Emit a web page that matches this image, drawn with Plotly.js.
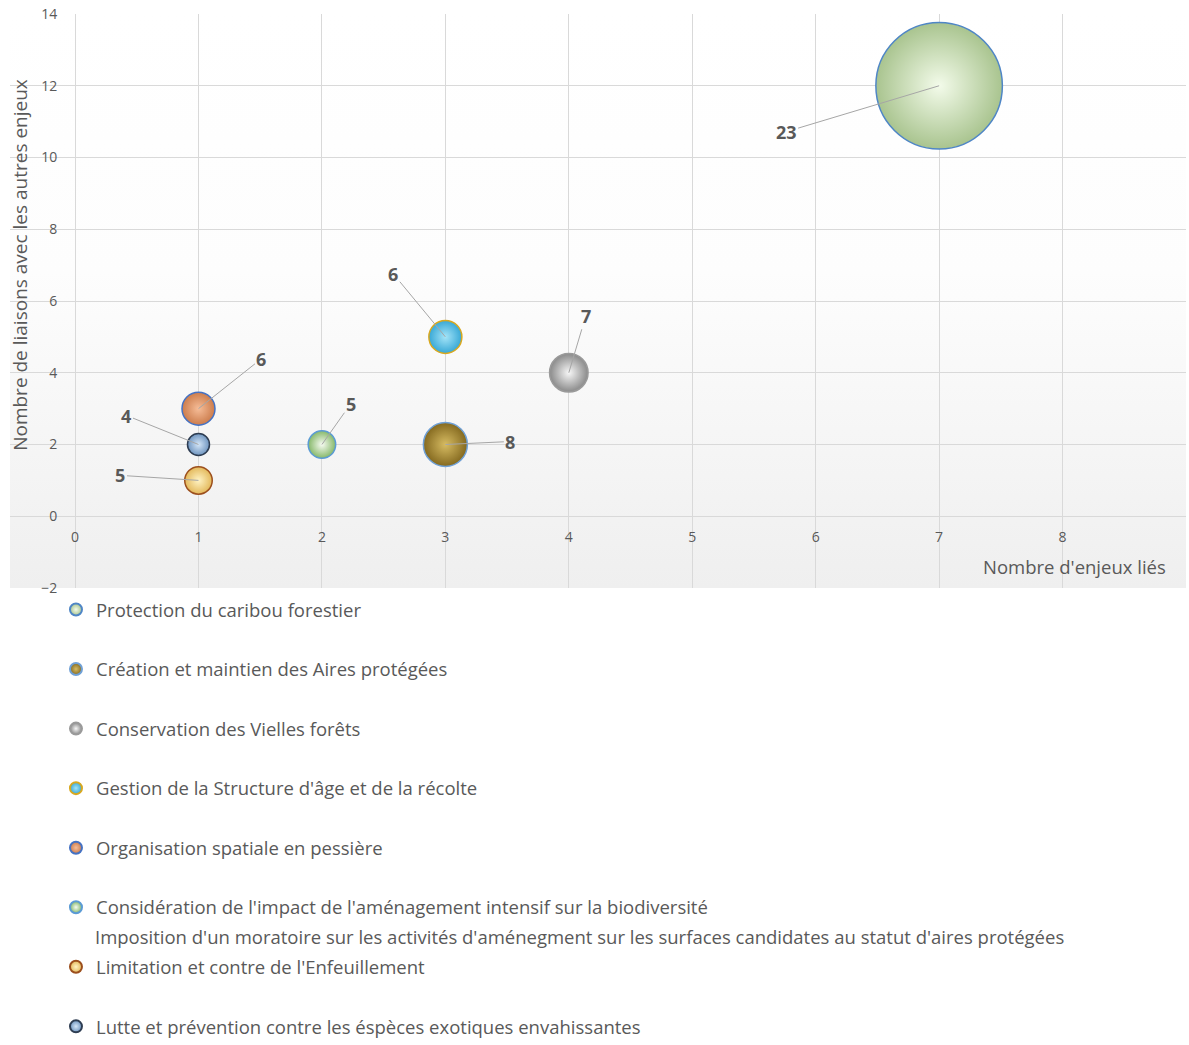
<!DOCTYPE html>
<html>
<head>
<meta charset="utf-8">
<script src="https://cdn.plot.ly/plotly-3.0.1.min.js"></script>
<style>html,body{margin:0;padding:0;background:#fff;}#chart{width:1189px;height:1045px;}</style>
</head>
<body>
<div id="chart"></div>
<script>
// ---- data ----
const seriesNames = [
  "Protection du caribou forestier",
  "Création et maintien des Aires protégées",
  "Conservation des Vielles forêts",
  "Gestion de la Structure d'âge et de la récolte",
  "Organisation spatiale en pessière",
  "Considération de l'impact de l'aménagement intensif sur la biodiversité",
  "Limitation et contre de l'Enfeuillement",
  "Lutte et prévention contre les éspèces exotiques envahissantes"
];
const secondLine = "Imposition d'un moratoire sur les activités d'aménegment sur les surfaces candidates au statut d'aires protégées";
const enjeuxLies = [7, 3, 4, 3, 1, 2, 1, 1];          // x
const liaisons   = [12, 2, 4, 5, 3, 2, 1, 2];         // y
const bubbleSize = [23, 8, 7, 6, 6, 5, 5, 4];         // size / label
const xTicks = [0, 1, 2, 3, 4, 5, 6, 7, 8, 9];
const yTicks = [-2, 0, 2, 4, 6, 8, 10, 12, 14];

// ---- styles ----
const edgeColors   = ["#a9c48f", "#84691f", "#8a8a8a", "#38a8d6", "#cc7c4c", "#86b86a", "#e3b85a", "#6e94bf"];
const centerColors = ["#f3fbea", "#d6bb62", "#f7f7f7", "#a4e4f8", "#f6bd98", "#f6fbf1", "#fff3c4", "#d4e6f8"];
const lineColors   = ["#4f86c6", "#6fa0d6", "#9a9a9a", "#d9a81e", "#4472c4", "#5b9bd5", "#9c4f1d", "#2e3d52"];
const labelOffsets = [[-153, 46], [65, -3], [17, -57], [-52, -63], [63, -50], [29, -41], [-78, -5], [-72, -29]];

const FONT = "'Open Sans', 'Noto Sans', sans-serif";
const GREY = "#595959";

const traces = seriesNames.map((n, i) => ({
  type: "scatter",
  mode: "markers",
  name: n,
  legendgroup: "g" + i,
  x: [enjeuxLies[i]],
  y: [liaisons[i]],
  marker: {
    size: [bubbleSize[i]],
    sizemode: "diameter",
    sizeref: 1 / 5.5,
    color: edgeColors[i],
    gradient: {type: "radial", color: centerColors[i]},
    line: {color: lineColors[i], width: 1.5},
    opacity: 1
  },
  hoverinfo: "x+y+name"
}));

const annotations = seriesNames.map((n, i) => ({
  x: enjeuxLies[i], y: liaisons[i], xref: "x", yref: "y",
  text: String(bubbleSize[i]),
  showarrow: true, arrowhead: 0, arrowwidth: 1, arrowcolor: "#a6a6a6",
  ax: labelOffsets[i][0], ay: labelOffsets[i][1], standoff: 0,
  font: {family: FONT, size: 18, color: GREY, weight: "bold"}
}));

annotations.push({
  xref: "paper", yref: "paper", x: 0.0085, y: 0.563,
  text: "Nombre de liaisons avec les autres enjeux", textangle: -90,
  showarrow: false, xanchor: "center", yanchor: "middle",
  font: {family: FONT, size: 19, color: GREY}
});
annotations.push({
  xref: "paper", yref: "paper", x: 0.9847, y: 0.0383,
  text: "Nombre d'enjeux liés", showarrow: false,
  xanchor: "right", yanchor: "middle",
  font: {family: FONT, size: 18.5, color: GREY}
});
annotations.push({
  xref: "paper", yref: "paper", x: 0.0705, y: -0.608,
  text: secondLine, showarrow: false, xanchor: "left", yanchor: "middle",
  font: {family: FONT, size: 18.5, color: GREY}
});

const gradSvg = "<svg xmlns='http://www.w3.org/2000/svg' width='100' height='100' preserveAspectRatio='none'><defs><linearGradient id='g' x1='0' y1='0' x2='0' y2='1'><stop offset='0' stop-color='#ffffff'/><stop offset='0.45' stop-color='#fdfdfd'/><stop offset='1' stop-color='#efefef'/></linearGradient></defs><rect width='100' height='100' fill='url(#g)'/></svg>";

const layout = {
  width: 1189, height: 1045,
  margin: {l: 10, r: 3, t: 14, b: 457, autoexpand: false},
  paper_bgcolor: "#ffffff",
  plot_bgcolor: "rgba(0,0,0,0)",
  showlegend: true,
  xaxis: {
    range: [-0.527, 9], tickvals: xTicks, showgrid: true, gridcolor: "#d9d9d9", gridwidth: 1,
    zeroline: false, showline: false, anchor: "free", position: 0.125,
    ticks: "outside", ticklen: 8, tickcolor: "rgba(0,0,0,0)",
    tickfont: {family: FONT, size: 14, color: GREY}, fixedrange: true, automargin: false
  },
  yaxis: {
    range: [-2, 14], tickvals: yTicks, showgrid: true, gridcolor: "#d9d9d9", gridwidth: 1,
    zeroline: false, showline: false, anchor: "free", position: 0.0553,
    ticks: "outside", ticklen: 15, tickcolor: "rgba(0,0,0,0)",
    tickfont: {family: FONT, size: 14, color: GREY}, fixedrange: true, automargin: false
  },
  legend: {
    x: 0.0391, y: -0.0052, xanchor: "left", yanchor: "top",
    orientation: "v", traceorder: "grouped", tracegroupgap: 32.5,
    itemsizing: "constant", valign: "middle",
    font: {family: FONT, size: 18.5, color: GREY},
    bgcolor: "rgba(0,0,0,0)"
  },
  images: [{
    source: "data:image/svg+xml;charset=utf-8," + encodeURIComponent(gradSvg),
    xref: "paper", yref: "paper", x: 0, y: 1, sizex: 1, sizey: 1,
    xanchor: "left", yanchor: "top", sizing: "stretch", layer: "below"
  }],
  annotations: annotations
};

Plotly.newPlot("chart", traces, layout, {displayModeBar: false, staticPlot: true});
</script>
</body>
</html>
